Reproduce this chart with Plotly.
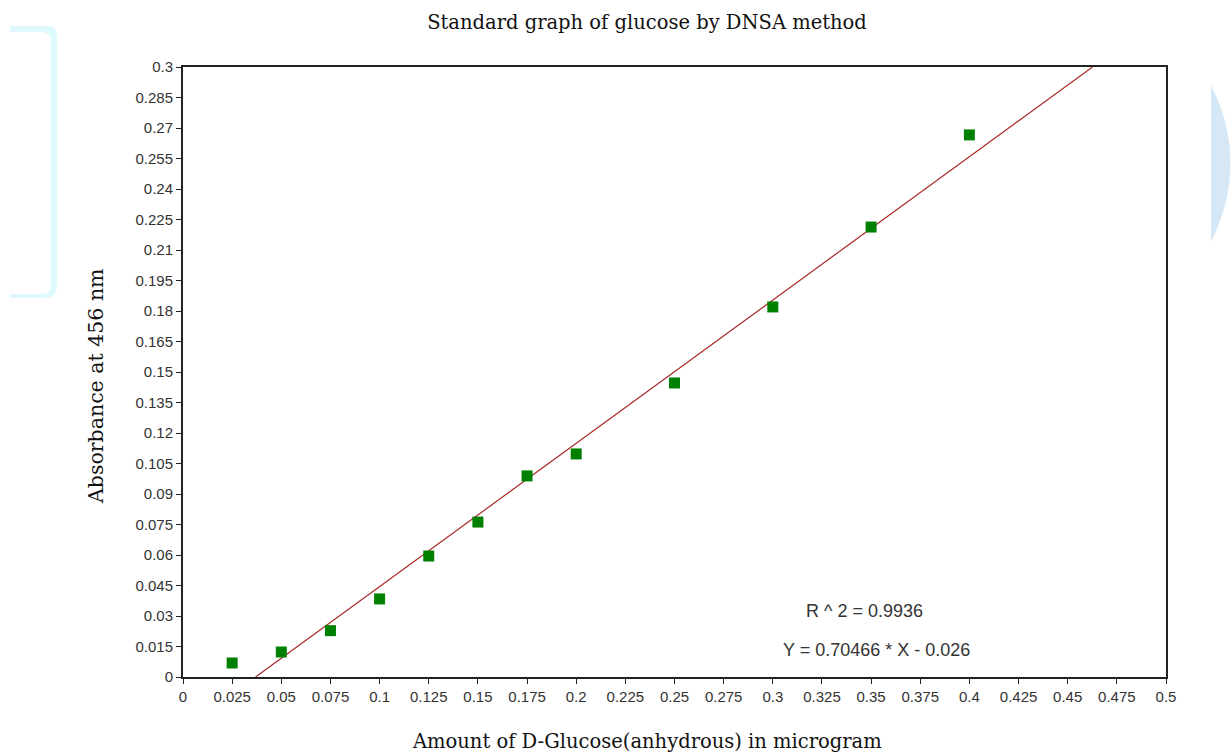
import plotly.graph_objects as go

# Data
amount = [0.025, 0.05, 0.075, 0.1, 0.125, 0.15, 0.175, 0.2, 0.25, 0.3, 0.35, 0.4]
absorbance = [0.0069, 0.0123, 0.0228, 0.0384, 0.0595, 0.0762, 0.0989, 0.1097, 0.1446, 0.182, 0.2213, 0.2666]
slope = 0.70466
intercept = -0.026
fit_x_range = [0.0369, 0.4626]

x_ticks = [i * 0.025 for i in range(21)]
x_ticklabels = ["0", "0.025", "0.05", "0.075", "0.1", "0.125", "0.15", "0.175", "0.2", "0.225",
                "0.25", "0.275", "0.3", "0.325", "0.35", "0.375", "0.4", "0.425", "0.45", "0.475", "0.5"]
y_ticks = [i * 0.015 for i in range(21)]
y_ticklabels = ["0", "0.015", "0.03", "0.045", "0.06", "0.075", "0.09", "0.105", "0.12", "0.135",
                "0.15", "0.165", "0.18", "0.195", "0.21", "0.225", "0.24", "0.255", "0.27", "0.285", "0.3"]

fit_y = [slope * x + intercept for x in fit_x_range]

fig = go.Figure()
fig.add_trace(go.Scatter(x=fit_x_range, y=fit_y, mode="lines",
                         line=dict(color="#A82828", width=1.2), hoverinfo="skip", showlegend=False))
fig.add_trace(go.Scatter(x=amount, y=absorbance, mode="markers",
                         marker=dict(symbol="square", size=11, color="#008000"), showlegend=False))

W, H = 1232, 756
L, R, T, B = 183, 66, 67, 79
pw, ph = W - L - R, H - T - B

def px(x):
    return (x - L) / pw

def py(y):
    return (H - B - y) / ph

# decorative background watermarks
left_path = (f"M {px(10)},{py(26)} L {px(50)},{py(26)} Q {px(57)},{py(26)} {px(57)},{py(40)} "
             f"L {px(57)},{py(285)} Q {px(57)},{py(298)} {px(45)},{py(298)} L {px(10)},{py(298)} "
             f"L {px(10)},{py(294)} L {px(42)},{py(294)} Q {px(51)},{py(294)} {px(51)},{py(284)} "
             f"L {px(51)},{py(42)} Q {px(51)},{py(32)} {px(42)},{py(32)} L {px(10)},{py(32)} Z")
right_path = (f"M {px(1211)},{py(85)} Q {px(1250)},{py(163)} {px(1211)},{py(242)} "
              f"L {px(1211)},{py(85)} Z")

serif = "DejaVu Serif, Liberation Serif, serif"
sans = "Liberation Sans, Arial, sans-serif"

fig.update_layout(
    width=W, height=H,
    margin=dict(l=L, r=R, t=T, b=B, autoexpand=False),
    paper_bgcolor="white", plot_bgcolor="white",
    title=dict(text="Standard graph of glucose by DNSA method", x=647 / W, xanchor="center",
               y=1 - 22 / H, yanchor="middle",
               font=dict(family=serif, size=19.5, color="#111")),
    xaxis=dict(range=[0, 0.5], tickvals=x_ticks, ticktext=x_ticklabels, ticks="outside",
               ticklen=5, tickcolor="#222", showgrid=False, zeroline=False,
               showline=True, linecolor="#222", linewidth=2, mirror=True, automargin=False,
               tickfont=dict(family=sans, size=15, color="#333")),
    yaxis=dict(range=[0, 0.3], tickvals=y_ticks, ticktext=y_ticklabels, ticks="outside",
               ticklen=5, tickcolor="#222", showgrid=False, zeroline=False,
               showline=True, linecolor="#222", linewidth=2, mirror=True, automargin=False,
               tickfont=dict(family=sans, size=15, color="#333")),
    shapes=[
        dict(type="path", xref="paper", yref="paper", path=left_path,
             fillcolor="#DFFAFF", line=dict(width=0), layer="below"),
        dict(type="path", xref="paper", yref="paper", path=right_path,
             fillcolor="#D6E8F6", line=dict(width=0), layer="below"),
    ],
    annotations=[
        dict(text="Amount of D-Glucose(anhydrous) in microgram", xref="paper", yref="paper",
             x=px(647), y=py(741), xanchor="center", yanchor="middle", showarrow=False,
             font=dict(family=serif, size=19.5, color="#111")),
        dict(text="Absorbance at 456 nm", xref="paper", yref="paper", textangle=-90,
             x=px(96), y=py(386), xanchor="center", yanchor="middle", showarrow=False,
             font=dict(family=serif, size=20.5, color="#111")),
        dict(text="R ^ 2 = 0.9936", xref="paper", yref="paper", x=px(864), y=py(611),
             xanchor="center", yanchor="middle",
             showarrow=False, font=dict(family=sans, size=18, color="#333")),
        dict(text="Y = 0.70466 * X - 0.026", xref="paper", yref="paper", x=px(876), y=py(650),
             xanchor="center", yanchor="middle",
             showarrow=False, font=dict(family=sans, size=18, color="#333")),
    ],
)

fig.write_html("out.html")
